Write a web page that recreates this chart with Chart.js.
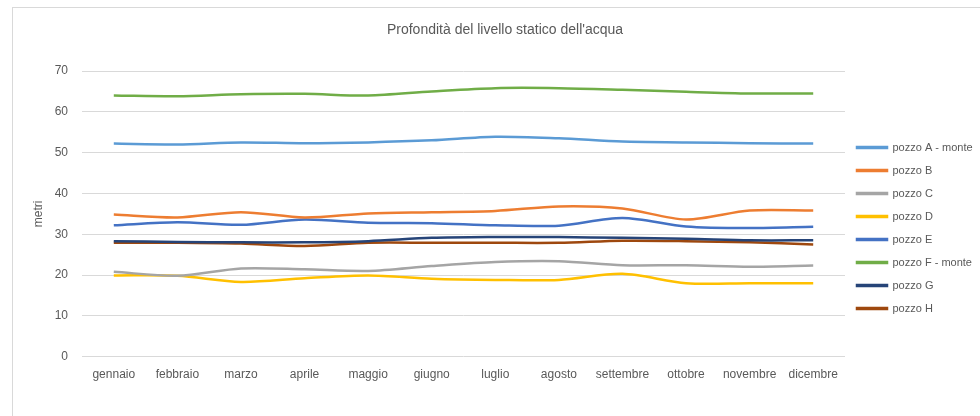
<!DOCTYPE html>
<html>
<head>
<meta charset="utf-8">
<script src="https://cdn.jsdelivr.net/npm/chart.js@4"></script>
<style>
  html, body { margin: 0; padding: 0; background: #fff; }
  #wrap { position: relative; width: 980px; height: 416px; overflow: hidden; }
  #frame { position: absolute; left: 12px; top: 7px; width: 1000px; height: 420px;
           border-left: 1px solid #d9d9d9; border-top: 1px solid #d9d9d9; }
  canvas { position: absolute; left: 0; top: 0; }
</style>
</head>
<body>
<div id="wrap">
  <div id="frame"></div>
  <canvas id="livelloChart" width="980" height="416"></canvas>
</div>
<script>
// mesi
const mesi = ['gennaio', 'febbraio', 'marzo', 'aprile', 'maggio', 'giugno',
              'luglio', 'agosto', 'settembre', 'ottobre', 'novembre', 'dicembre'];

// profondità (m) per pozzo
const pozzoA = [52.2, 52.0, 52.5, 52.3, 52.5, 53.0, 53.9, 53.5, 52.7, 52.5, 52.3, 52.2];
const pozzoB = [34.8, 34.1, 35.4, 34.1, 35.1, 35.4, 35.7, 36.8, 36.3, 33.6, 35.8, 35.8];
const pozzoC = [20.8, 19.8, 21.6, 21.4, 21.0, 22.2, 23.2, 23.4, 22.4, 22.4, 22.0, 22.3];
const pozzoD = [19.9, 19.8, 18.3, 19.2, 19.9, 19.1, 18.8, 18.8, 20.3, 18.0, 18.0, 18.0];
const pozzoE = [32.2, 32.9, 32.3, 33.6, 32.8, 32.7, 32.2, 32.1, 34.0, 31.9, 31.5, 31.8];
const pozzoF = [64.0, 63.8, 64.3, 64.4, 64.0, 65.0, 65.8, 65.8, 65.4, 64.9, 64.5, 64.5];
const pozzoG = [28.3, 28.1, 28.0, 28.0, 28.3, 29.1, 29.3, 29.3, 29.1, 28.9, 28.5, 28.5];
const pozzoH = [27.9, 27.9, 27.7, 27.1, 27.9, 27.9, 27.9, 27.9, 28.4, 28.3, 28.0, 27.5];

const nomi = ['pozzo A - monte', 'pozzo B', 'pozzo C', 'pozzo D', 'pozzo E',
              'pozzo F - monte', 'pozzo G', 'pozzo H'];
const colori = ['#5B9BD5', '#ED7D31', '#A5A5A5', '#FFC000', '#4472C4', '#70AD47', '#264478', '#9E480E'];
const serie = [pozzoA, pozzoB, pozzoC, pozzoD, pozzoE, pozzoF, pozzoG, pozzoH];

const yTicks = [0, 10, 20, 30, 40, 50, 60, 70];

const testo = '#595959';
Chart.defaults.font.family = '"Liberation Sans", Arial, sans-serif';

// titolo disegnato a mano per centrarlo sopra l'area del grafico
const titolo = {
    id: 'titolo',
    afterDraw(chart) {
        const ctx = chart.ctx;
        ctx.save();
        ctx.font = '14px "Liberation Sans", Arial, sans-serif';
        ctx.fillStyle = testo;
        ctx.textAlign = 'center';
        ctx.textBaseline = 'middle';
        ctx.fillText("Profondità del livello statico dell'acqua", 505, 30);
        ctx.restore();
    }
};

const ctx = document.getElementById('livelloChart').getContext('2d');
const chart = new Chart(ctx, {
    type: 'line',
    data: {
        labels: mesi,
        datasets: serie.map((d, i) => ({
            label: nomi[i],
            data: d,
            borderColor: colori[i],
            backgroundColor: colori[i],
            borderWidth: 2.5,
            pointRadius: 0,
            tension: 0.3,
            fill: false
        }))
    },
    options: {
        responsive: false,
        animation: false,
        layout: { padding: { top: 71, left: 25, right: 0, bottom: 31 } },
        plugins: {
            legend: {
                position: 'right',
                maxWidth: 135,
                labels: {
                    boxWidth: 30,
                    boxHeight: 1,
                    padding: 12,
                    color: testo,
                    font: { size: 11 }
                }
            },
            title: { display: false },
            tooltip: { enabled: false }
        },
        scales: {
            x: {
                offset: true,
                grid: { display: false },
                border: { display: false },
                ticks: { color: testo, font: { size: 12 }, maxRotation: 0, padding: 3 }
            },
            y: {
                min: 0,
                max: 70,
                afterFit(scale) { scale.width = 57; },
                afterBuildTicks(scale) { scale.ticks = yTicks.map(v => ({ value: v })); },
                grid: { color: '#d9d9d9', drawTicks: false },
                border: { display: false },
                ticks: { color: testo, font: { size: 12 }, padding: 14 },
                title: { display: true, text: 'metri', color: testo, font: { size: 12 }, padding: 6 }
            }
        }
    },
    plugins: [titolo]
});
</script>
</body>
</html>
